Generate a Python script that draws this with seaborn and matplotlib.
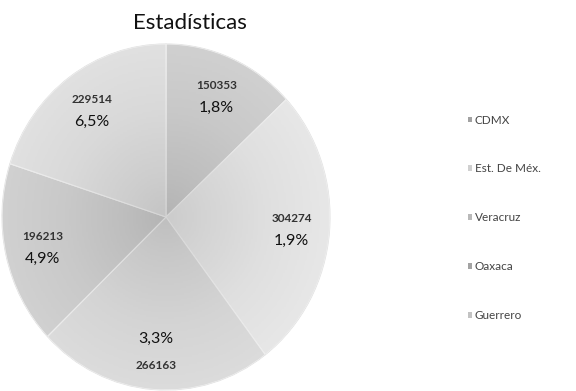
import numpy as np
import matplotlib
matplotlib.use("Agg")
import matplotlib.pyplot as plt
import seaborn as sns
from matplotlib.patches import Patch

sns.set_theme(style="white")
plt.rcParams['font.family'] = ['Lato', 'DejaVu Sans']

categories = ["CDMX", "Est. De Méx.", "Veracruz", "Oaxaca", "Guerrero"]
values = [150353, 304274, 266163, 196213, 229514]
pct_labels = ["1,8%", "1,9%", "3,3%", "4,9%", "6,5%"]
colors = ["#a2a2a2", "#d0d0d0", "#b9b9b9", "#a3a3a3", "#c3c3c3"]
pct_on_top = [False, False, True, False, False]

W, H = 576, 391
fig = plt.figure(figsize=(W / 100, H / 100), dpi=100)
fig.patch.set_facecolor("white")

cx, cy, rx, ry = 166, 217, 164, 173
ax = fig.add_axes([(cx - rx) / W, (H - cy - ry) / H, 2 * rx / W, 2 * ry / H])
ax.axis("off")

wedges, _ = ax.pie(values, colors=colors, startangle=90, counterclock=False,
                   radius=1, wedgeprops=dict(edgecolor="#e2e2e2", linewidth=0.8))
for w in wedges:
    w.set_clip_on(False)

# shading gradient inside wedges (darker toward the centre)
yy, xx = np.mgrid[-1:1:200j, -1:1:200j]
shade = 1 - np.clip(np.hypot(xx, yy), 0, 1)
for w in wedges:
    im = ax.imshow(shade, extent=(-1, 1, -1, 1), cmap="Greys", vmin=0, vmax=3,
                   alpha=0.5, origin="lower", aspect="auto", zorder=w.get_zorder() + 0.1)
    im.set_clip_path(w)

ax.set_xlim(-1, 1)
ax.set_ylim(-1, 1)
ax.set_aspect("auto")

for w, v, p, top in zip(wedges, values, pct_labels, pct_on_top):
    mid = np.deg2rad((w.theta1 + w.theta2) / 2)
    r = 0.77
    x, y = r * np.cos(mid), r * np.sin(mid)
    num_off, pct_off = (7, -9) if not top else (-11, 8)
    ax.annotate(str(v), (x, y), xytext=(0, num_off), textcoords="offset points",
                ha="center", va="center", fontsize=8.5, fontweight="bold",
                color="#333333", zorder=5)
    ax.annotate(p, (x, y), xytext=(0, pct_off), textcoords="offset points",
                ha="center", va="center", fontsize=11.5, color="#111111", zorder=5)

fig.text(190 / W, 1 - 23 / H, "Estadísticas", ha="center", va="center",
         fontsize=16, color="#111111")

handles = [Patch(facecolor=c, edgecolor="none") for c in colors]
leg = fig.legend(handles, categories, loc="upper left",
                 bbox_to_anchor=(463 / W, 1 - 110 / H), frameon=False,
                 fontsize=8.5, labelspacing=3.2, handlelength=0.4, handleheight=0.4,
                 handletextpad=0.2, borderaxespad=0)
for t in leg.get_texts():
    t.set_color("#444444")

fig.savefig("out.png", dpi=100, facecolor="white")
